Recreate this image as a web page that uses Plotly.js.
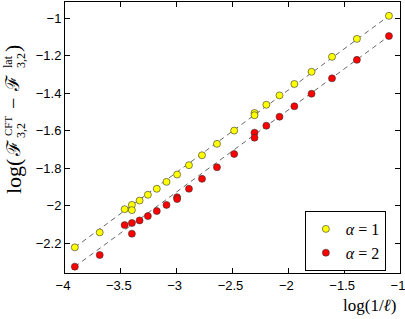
<!DOCTYPE html>
<html>
<head>
<meta charset="utf-8">
<script src="https://cdn.plot.ly/plotly-3.0.1.min.js"></script>
<style>html,body{margin:0;padding:0;background:#fff;}#chart{width:405px;height:319px;}</style>
</head>
<body>
<div id="chart"></div>
<script>
// log(1/l) positions, one per system size
var xA1 = [-1.099, -1.386, -1.609, -1.792, -1.946, -2.079, -2.197, -2.303, -2.303, -2.485, -2.639, -2.773, -2.890, -2.996, -3.091, -3.178, -3.258, -3.332, -3.401, -3.401, -3.466, -3.689, -3.912];
var yA1 = [-0.986, -1.109, -1.205, -1.285, -1.350, -1.411, -1.461, -1.505, -1.517, -1.599, -1.670, -1.731, -1.784, -1.834, -1.873, -1.910, -1.942, -1.973, -1.996, -2.024, -2.019, -2.143, -2.223];
var xA2 = [-1.099, -1.386, -1.609, -1.792, -1.946, -2.079, -2.197, -2.303, -2.303, -2.485, -2.639, -2.773, -2.890, -2.996, -2.996, -3.091, -3.178, -3.258, -3.332, -3.401, -3.466, -3.401, -3.689, -3.912];
var yA2 = [-1.094, -1.221, -1.320, -1.402, -1.469, -1.525, -1.573, -1.610, -1.637, -1.724, -1.795, -1.857, -1.910, -1.955, -1.965, -1.996, -2.029, -2.056, -2.079, -2.093, -2.104, -2.150, -2.264, -2.326];
// dashed fit lines
var fitX = [-3.912, -1.099];
var fitY1 = [-2.223, -0.986];
var fitY2 = [-2.326, -1.094];
var xTicks = [-4, -3.5, -3, -2.5, -2, -1.5, -1];
var yTicks = [-2.2, -2, -1.8, -1.6, -1.4, -1.2, -1];
var legendNames = ['<i>α</i> = 1', '<i>α</i> = 2'];
var xTitle = 'log(1/<i>ℓ</i>)';

var serif = '"Liberation Serif", "DejaVu Serif", serif';
var sans = '"Liberation Sans", Arial, sans-serif';

var data = [
  {x: fitX, y: fitY1, mode: 'lines', line: {color: '#404040', width: 0.8, dash: '5px,4px'}, showlegend: false, hoverinfo: 'skip'},
  {x: fitX, y: fitY2, mode: 'lines', line: {color: '#404040', width: 0.8, dash: '5px,4px'}, showlegend: false, hoverinfo: 'skip'},
  {x: xA1, y: yA1, mode: 'markers', name: legendNames[0],
   marker: {color: '#ffff00', size: 7, line: {color: '#333', width: 0.6}}},
  {x: xA2, y: yA2, mode: 'markers', name: legendNames[1],
   marker: {color: '#ff0000', size: 7, line: {color: '#333', width: 0.6}}}
];

// plot area in pixels: left 65, top 2, width 335, height 271
function py(p) { return (273 - p) / 271; }
function titlePiece(text, cx, cy, size) {
  return {text: text, xref: 'paper', yref: 'paper', x: 0, xshift: cx - 65, y: py(cy),
          xanchor: 'center', yanchor: 'middle', textangle: -90, showarrow: false,
          font: {family: serif, size: size, color: '#000'}};
}

var layout = {
  width: 405, height: 319,
  margin: {l: 65, r: 5, t: 2, b: 46},
  paper_bgcolor: '#fff', plot_bgcolor: '#fff',
  showlegend: true,
  legend: {x: 0.716, xanchor: 'left', y: py(211), yanchor: 'top',
           bordercolor: '#000', borderwidth: 1, bgcolor: '#fff',
           font: {family: serif, size: 16, color: '#000'},
           tracegroupgap: 0, itemwidth: 30},
  xaxis: {range: [-4, -1], tickvals: xTicks, ticks: 'inside', ticklen: 5, tickcolor: '#000',
          showline: true, linecolor: '#000', linewidth: 1, mirror: 'ticks', showgrid: false, zeroline: false,
          ticklabeloverflow: 'allow', ticklabelshift: -2,
          tickfont: {family: sans, size: 13, color: '#000'}},
  yaxis: {range: [-2.36, -0.912], tickvals: yTicks, ticks: 'inside', ticklen: 5, tickcolor: '#000',
          showline: true, linecolor: '#000', linewidth: 1, mirror: 'ticks', showgrid: false, zeroline: false,
          ticklabeloverflow: 'allow',
          tickfont: {family: sans, size: 13, color: '#000'}},
  annotations: [
    {text: xTitle, xref: 'paper', yref: 'paper', x: 1, xshift: -2, y: py(305), xanchor: 'right', yanchor: 'middle',
     showarrow: false, font: {family: serif, size: 17, color: '#000'}},
    titlePiece('log(', 13, 177, 22),
    titlePiece('ℱ', 13, 148, 19),
    titlePiece('CFT', 8, 126, 11),
    titlePiece('3,2', 21, 131, 12),
    titlePiece('−', 13, 104, 20),
    titlePiece('ℱ', 13, 83, 19),
    titlePiece('lat', 8, 62, 12),
    titlePiece('3,2', 21, 61, 12),
    titlePiece(')', 13, 49, 22)
  ]
};

Plotly.newPlot('chart', data, layout, {displayModeBar: false, staticPlot: true});
</script>
</body>
</html>
